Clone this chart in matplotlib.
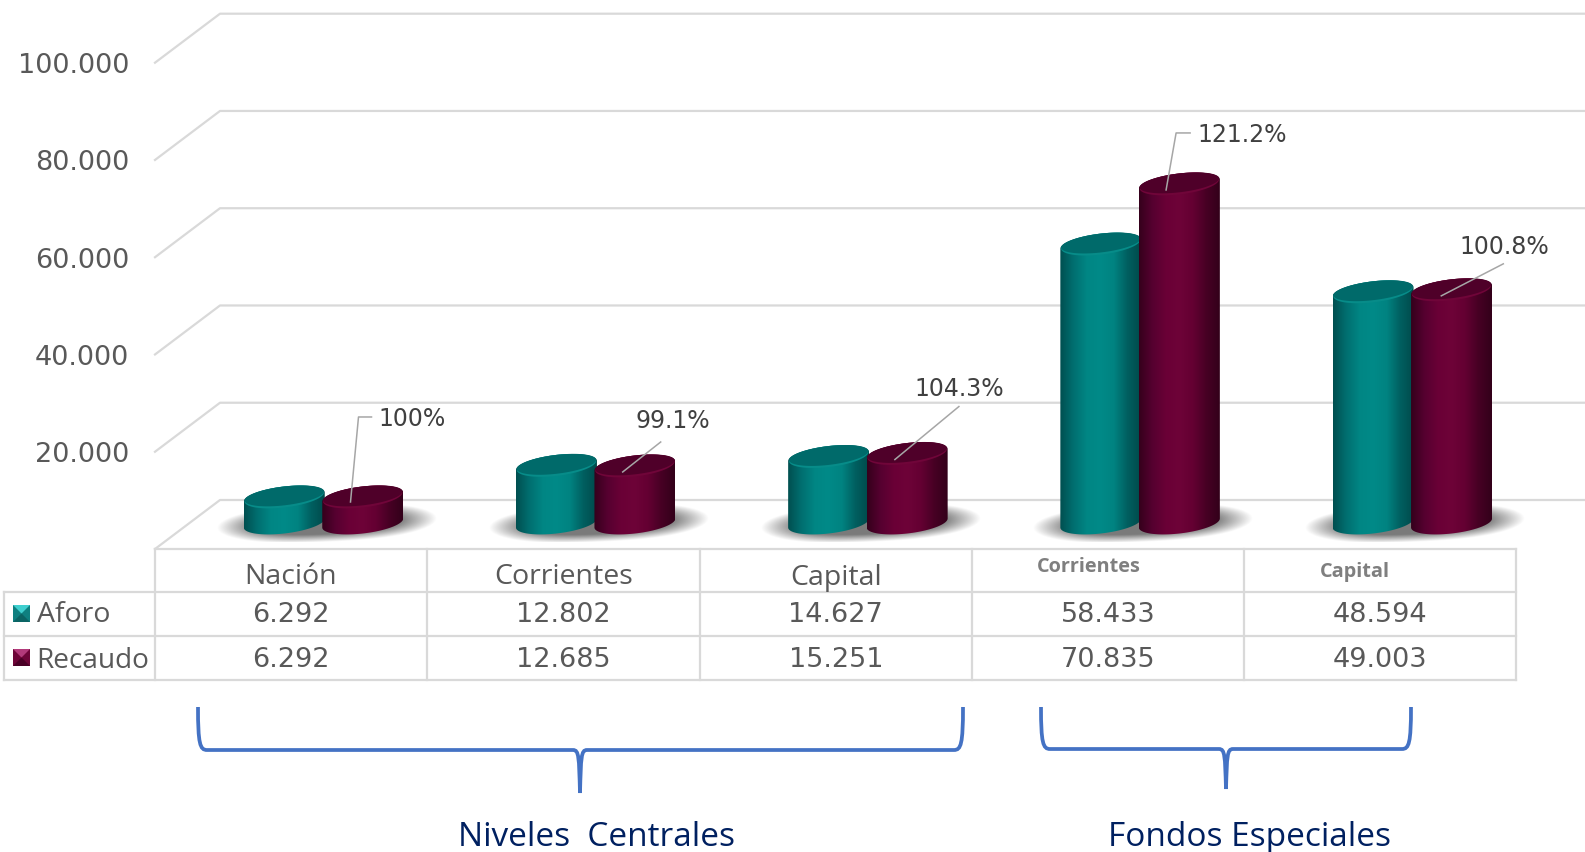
import numpy as np
import matplotlib
matplotlib.use("Agg")
import matplotlib.pyplot as plt
from matplotlib.colors import LinearSegmentedColormap
from matplotlib.patches import PathPatch, Polygon
from matplotlib.path import Path

plt.rcParams["font.family"] = ["Open Sans", "DejaVu Sans"]

categories = ["Nación", "Corrientes", "Capital", "Corrientes", "Capital"]
aforo = [6292, 12802, 14627, 58433, 48594]
recaudo = [6292, 12685, 15251, 70835, 49003]
percent = ["100%", "99.1%", "104.3%", "121.2%", "100.8%"]
yticks = [20000, 40000, 60000, 80000, 100000]
groups = ["Niveles  Centrales", "Fondos Especiales"]

W, H = 1585, 852
GREY = "#d9d9d9"
TEXT = "#595959"
NUM_FONT = "DejaVu Sans"

# pixel layout of the drawing
K = 0.00485          # px per unit for the bars
BASE = 527.5         # px of value 0 at the bars
X0, DX = 323.5, 272.2
K_WALL, FLOOR = 0.004863, 549
DEPTH_X, DEPTH_Y = 65, 49
COLS = [155, 427, 699.5, 972, 1244, 1516]
ROWS = [549, 592, 636, 680]


def fmt(v):
    return f"{v:,}".replace(",", ".")


fig = plt.figure(figsize=(W / 100, H / 100), dpi=100, facecolor="white")

# furniture in pixels
px = fig.add_axes([0, 0, 1, 1], zorder=1)
px.axis("off")

# shadows, a soft tilted blob under each pair of bars
yy, xx = np.mgrid[-1:1:120j, -1:1:400j]
r = (np.abs(xx) ** 2.6 + np.abs(yy + xx * 0.25) ** 2) ** 0.5
shade = np.zeros(r.shape + (4,))
shade[..., :3] = 0.42
shade[..., 3] = np.clip((1 - r) * 2.4, 0, 1) * 0.9
for i in range(len(categories)):
    c = X0 + DX * i + 3
    px.imshow(shade, extent=(c - 110, c + 110, 542, 504), aspect="auto", zorder=2)

# back wall, side wall and floor
for v in [0] + yticks:
    fy = FLOOR - v * K_WALL
    px.plot([155, 155 + DEPTH_X, W], [fy, fy - DEPTH_Y, fy - DEPTH_Y], color=GREY, lw=1.6, zorder=1)
    if v:
        px.text(129, fy + 0.5, fmt(v), ha="right", va="center_baseline", fontsize=19.5, color=TEXT, family=NUM_FONT)

# table
px.plot([155, COLS[-1]], [ROWS[0], ROWS[0]], color=GREY, lw=1.6, zorder=3)
for y in ROWS[1:]:
    px.plot([4, COLS[-1]], [y, y], color=GREY, lw=1.6, zorder=3)
for x in COLS:
    px.plot([x, x], [ROWS[0], ROWS[-1]], color=GREY, lw=1.6, zorder=3)
px.plot([4, 4], [ROWS[1], ROWS[-1]], color=GREY, lw=1.6, zorder=3)

for i, name in enumerate(categories):
    c = (COLS[i] + COLS[i + 1]) / 2
    if i < 3:
        px.text(c, 574, name, ha="center", va="center_baseline", fontsize=20.5, color=TEXT)
    px.text(c, 612.5, fmt(aforo[i]), ha="center", va="center_baseline", fontsize=19.5, color=TEXT, family=NUM_FONT)
    px.text(c, 657, fmt(recaudo[i]), ha="center", va="center_baseline", fontsize=19.5, color=TEXT, family=NUM_FONT)
px.text(1089, 565, categories[3], ha="center", va="center_baseline", fontsize=14.3, weight="bold", color="#7f7f7f")
px.text(1354.5, 570, categories[4], ha="center", va="center_baseline", fontsize=14.3, weight="bold", color="#7f7f7f")


def legend_key(y, top, side, bottom):
    l, r_, t, b = 13, 30, y, y + 17
    mx, my = (l + r_) / 2, t + 8.5
    px.add_patch(Polygon([(l, t), (l, b), (r_, b), (r_, t)], color=side, lw=0, zorder=4))
    px.add_patch(Polygon([(l, t), (r_, t), (mx, my)], color=top, lw=0, zorder=4))
    px.add_patch(Polygon([(l, b), (r_, b), (mx, my)], color=bottom, lw=0, zorder=4))


legend_key(605, "#3fcfcf", "#0f8080", "#0b6464")
legend_key(649, "#b23a7a", "#6e0538", "#4a0026")
px.text(37, 612, "Aforo", ha="left", va="center_baseline", fontsize=20.5, color=TEXT)
px.text(36, 657, "Recaudo", ha="left", va="center_baseline", fontsize=20.2, color=TEXT)


def brace(x0, x1, xm, top, mid, tip):
    verts = [(x0, top), (x0, mid - 6), (x0 + 2, mid), (x0 + 9, mid),
             (xm - 7, mid), (xm - 1, mid), (xm - 1, mid + 7), (xm, tip),
             (xm + 1, mid + 7), (xm + 1, mid), (xm + 7, mid),
             (x1 - 9, mid), (x1 - 2, mid), (x1, mid - 6), (x1, top)]
    codes = [Path.MOVETO, Path.CURVE4, Path.CURVE4, Path.CURVE4,
             Path.LINETO, Path.CURVE4, Path.CURVE4, Path.CURVE4,
             Path.CURVE4, Path.CURVE4, Path.CURVE4,
             Path.LINETO, Path.CURVE4, Path.CURVE4, Path.CURVE4]
    px.add_patch(PathPatch(Path(verts, codes), fc="none", ec="#4472c4", lw=2.7, capstyle="butt"))


brace(198, 963, 580, 707, 750, 793)
brace(1041, 1411, 1226, 707, 749, 789)
px.text(597, 834, groups[0], ha="center", va="center_baseline", fontsize=24, color="#002060")
px.text(1249, 834, groups[1], ha="center", va="center_baseline", fontsize=24, color="#002060")

px.set_xlim(0, W)
px.set_ylim(H, 0)

# bars in category / value units
ax = fig.add_axes([0, 0, 1, 1], zorder=2)
ax.patch.set_alpha(0)
ax.axis("off")

BAR_W = 81 / DX
STEP = 78.5 / DX
RX = BAR_W / 2
RY = 10.5 / K
SHEAR = 4.5 / K
LIFT = 4.5 / K
t = np.linspace(0, 2 * np.pi, 121)

teal_cm = LinearSegmentedColormap.from_list("teal", ["#004f50", "#006f70", "#008684", "#008a88", "#008381", "#005f60", "#004a4b"])
wine_cm = LinearSegmentedColormap.from_list("wine", ["#35001c", "#560030", "#6a0036", "#6e0338", "#640032", "#470024", "#33001a"])
ramp = np.linspace(0, 1, 256)[None, :]


def cylinder(cx, value, cm, face, rim):
    lo = np.linspace(np.pi, 2 * np.pi, 60)
    hi = np.linspace(0, np.pi, 60)
    bx = cx + RX * np.cos(lo)
    by = LIFT + RY * np.sin(lo) + SHEAR * np.cos(lo)
    tx = cx + RX * np.cos(hi)
    ty = value + RY * np.sin(hi) + SHEAR * np.cos(hi)
    body = Polygon(np.column_stack([np.r_[bx, tx], np.r_[by, ty]]), closed=True, fc="none", ec="none", zorder=3)
    ax.add_patch(body)
    im = ax.imshow(ramp, cmap=cm, extent=(cx - RX, cx + RX, LIFT - 3 * RY, value + 3 * RY), aspect="auto", zorder=3)
    im.set_clip_path(body)
    # lighter crescent on the near edge of the lid, darker face above it
    ax.add_patch(Polygon(np.column_stack([cx + RX * 0.98 * np.cos(t), value + RY * np.sin(t) + SHEAR * np.cos(t)]),
                         closed=True, fc=rim, ec="none", zorder=3))
    ax.add_patch(Polygon(np.column_stack([cx + RX * 0.98 * np.cos(t), value + 1.1 / K + RY * 0.9 * np.sin(t) + SHEAR * np.cos(t)]),
                         closed=True, fc=face, ec="none", zorder=3))


for i in range(len(categories)):
    cylinder(i - STEP / 2, aforo[i], teal_cm, "#006a6a", "#078c89")
    cylinder(i + STEP / 2, recaudo[i], wine_cm, "#4f0029", "#700539")

ax.set_xlim(-X0 / DX, (W - X0) / DX)
ax.set_ylim((BASE - H) / K, BASE / K)

# leaders, as px offsets from each wine bar top
leaders = [[(-12, 5), (-4, -80), (9, -80)],
           [(-12, 6), (26, -24)],
           [(-12, 6), (52, -47)],
           [(-13, 6), (-3, -51), (11, -51)],
           [(-10, 6), (52, -26)]]
label_xy = [(412, 417), (673, 418), (959, 387), (1242, 133), (1504, 245)]
for i, pts in enumerate(leaders):
    ox = X0 + DX * i + 39
    oy = BASE - recaudo[i] * K
    ax.plot([ox + p[0] for p in pts], [oy + p[1] for p in pts], color="#a6a6a6", lw=1.1, zorder=5,
            transform=px.transData)
    ax.text(label_xy[i][0], label_xy[i][1], percent[i], ha="center", va="center_baseline", fontsize=17,
            color="#404040", zorder=6, transform=px.transData, family=NUM_FONT)

fig.savefig("out.png", dpi=100, facecolor="white")
